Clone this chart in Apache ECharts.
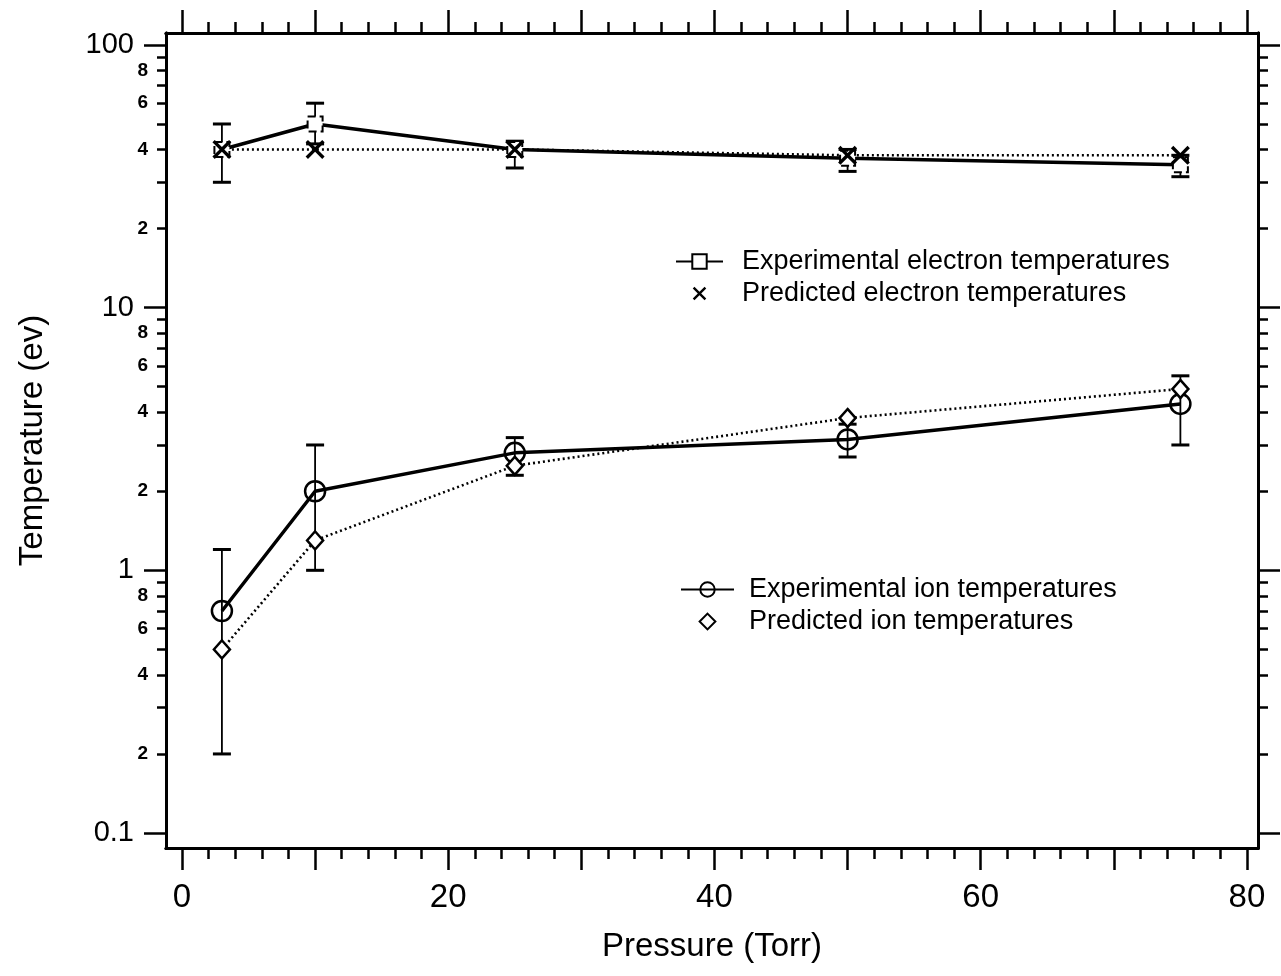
<!DOCTYPE html>
<html><head><meta charset="utf-8">
<script src="https://cdn.jsdelivr.net/npm/echarts@6/dist/echarts.min.js"></script>
<style>html,body{margin:0;padding:0;background:#fff}#c{width:1281px;height:976px}</style>
</head><body><div id="c"></div>
<script>
// ---- data ----
const pressure = [3, 10, 25, 50, 75];
const expElectron = [40, 50, 40, 37, 35];
const expElectronLow = [30, 42, 34, 33, 31.5];
const expElectronHigh = [50, 60, 43, 40, 38];
const predElectron = [40, 40, 40, 38, 38];
const expIon = [0.7, 2.0, 2.8, 3.15, 4.3];
const expIonLow = [0.2, 1.0, 2.3, 2.7, 3.0];
const expIonHigh = [1.2, 3.0, 3.2, 3.6, 5.5];
const predIon = [0.5, 1.3, 2.5, 3.8, 4.9];

const seriesNames = ['Experimental electron temperatures', 'Predicted electron temperatures',
                     'Experimental ion temperatures', 'Predicted ion temperatures'];

// ---- tick / label values ----
const xLabelValues = [0, 20, 40, 60, 80];
const xMajorTicks = [0, 10, 20, 30, 40, 50, 60, 70, 80];
const xMinorTicks = [2, 4, 6, 8, 12, 14, 16, 18, 22, 24, 26, 28, 32, 34, 36, 38, 42, 44, 46, 48, 52, 54, 56, 58, 62, 64, 66, 68, 72, 74, 76, 78];
const yMajorValues = [0.1, 1, 10, 100];
const yMinorLabelValues = [0.2, 0.4, 0.6, 0.8, 2, 4, 6, 8, 20, 40, 60, 80];
const yMinorTicks = [0.2, 0.3, 0.4, 0.5, 0.6, 0.7, 0.8, 0.9, 2, 3, 4, 5, 6, 7, 8, 9, 20, 30, 40, 50, 60, 70, 80, 90];

const X_MIN = -1.2, X_MAX = 80.83, Y_MIN = 0.0877, Y_MAX = 111;
const FONT = 'Liberation Sans, Arial, Helvetica, sans-serif';

const pairs = (xs, ys) => xs.map((x, i) => [x, ys[i]]);
const errData = (xs, lo, hi) => xs.map((x, i) => [x, lo[i], hi[i]]);

const X_PATH = 'path://M0,1.5L1.5,0L6,4.5L10.5,0L12,1.5L7.5,6L12,10.5L10.5,12L6,7.5L1.5,12L0,10.5L4.5,6Z';
const X_ICON = 'path://M-2,-2M14,14M0,1.5L1.5,0L6,4.5L10.5,0L12,1.5L7.5,6L12,10.5L10.5,12L6,7.5L1.5,12L0,10.5L4.5,6Z';
const D_ICON = 'path://M-1,-1M15,15M7,0L14,7L7,14L0,7Z';

function errorBar(params, api) {
  const x = api.value(0);
  const top = api.coord([x, api.value(2)]);
  const bot = api.coord([x, api.value(1)]);
  const hw = 9;
  return {
    type: 'group',
    children: [
      { type: 'line', shape: { x1: top[0], y1: top[1], x2: bot[0], y2: bot[1] },
        style: { stroke: '#000', lineWidth: 1.8 } },
      { type: 'line', shape: { x1: top[0] - hw, y1: top[1], x2: top[0] + hw, y2: top[1] },
        style: { stroke: '#000', lineWidth: 3 } },
      { type: 'line', shape: { x1: bot[0] - hw, y1: bot[1], x2: bot[0] + hw, y2: bot[1] },
        style: { stroke: '#000', lineWidth: 3 } }
    ]
  };
}

function xAx(pos, ticks, len, opts) {
  return Object.assign({
    type: 'value', position: pos, min: X_MIN, max: X_MAX,
    axisLine: { show: true, onZero: false, lineStyle: { color: '#000', width: 3 } },
    axisTick: { show: true, customValues: ticks, length: len, lineStyle: { color: '#000', width: 2.5 } },
    axisLabel: { show: false },
    splitLine: { show: false }
  }, opts || {});
}
function yAx(pos, ticks, len, opts) {
  return Object.assign({
    type: 'log', logBase: 10, position: pos, min: Y_MIN, max: Y_MAX,
    axisLine: { show: true, onZero: false, lineStyle: { color: '#000', width: 3 } },
    axisTick: { show: true, customValues: ticks, length: len, lineStyle: { color: '#000', width: 2.5 } },
    axisLabel: { show: false },
    splitLine: { show: false }
  }, opts || {});
}

const option = {
  animation: false,
  backgroundColor: '#fff',
  textStyle: { fontFamily: FONT, color: '#000' },
  grid: { left: 166, top: 33, width: 1092, height: 815, containLabel: false },
  legend: [
    { data: [seriesNames[0], { name: seriesNames[1], icon: X_ICON }],
      orient: 'vertical', left: 675, top: 248, padding: 0,
      itemWidth: 47, itemHeight: 18, itemGap: 5, selectedMode: false,
      textStyle: { fontSize: 27, color: '#000', fontFamily: FONT, padding: [0, 0, 0, 14] } },
    { data: [seriesNames[2], { name: seriesNames[3], icon: D_ICON }],
      orient: 'vertical', left: 680, top: 576, padding: 0,
      itemWidth: 53, itemHeight: 18, itemGap: 5, selectedMode: false,
      textStyle: { fontSize: 27, color: '#000', fontFamily: FONT, padding: [0, 0, 0, 10] } }
  ],
  xAxis: [
    xAx('bottom', xMajorTicks, 22, {
      axisLabel: { show: true, customValues: xLabelValues, margin: 33, fontSize: 33, color: '#000', fontFamily: FONT },
      name: 'Pressure (Torr)', nameLocation: 'middle', nameGap: 82,
      nameTextStyle: { fontSize: 33, color: '#000', fontFamily: FONT }
    }),
    xAx('bottom', xMinorTicks, 11),
    xAx('top', xMajorTicks, 23),
    xAx('top', xMinorTicks, 11)
  ],
  yAxis: [
    yAx('left', yMajorValues, 22, {
      axisLabel: { show: true, customValues: yMajorValues, margin: 32, fontSize: 29, color: '#000', fontFamily: FONT,
                   formatter: v => String(+v.toPrecision(3)) },
      name: 'Temperature (ev)', nameLocation: 'middle', nameGap: 117,
      nameTextStyle: { fontSize: 33, color: '#000', fontFamily: FONT }
    }),
    yAx('left', yMinorTicks, 9, {
      axisLabel: { show: true, customValues: yMinorLabelValues, margin: 18, fontSize: 19, fontWeight: 'bold', color: '#000', fontFamily: FONT,
                   formatter: v => String(Math.round(v / Math.pow(10, Math.floor(Math.log10(v) + 1e-9)))) }
    }),
    yAx('right', yMajorValues, 22),
    yAx('right', yMinorTicks, 10)
  ],
  series: [
    { type: 'custom', name: 'eErr', renderItem: errorBar, data: errData(pressure, expElectronLow, expElectronHigh),
      encode: { x: 0, y: [1, 2] }, z: 1 },
    { type: 'custom', name: 'iErr', renderItem: errorBar, data: errData(pressure, expIonLow, expIonHigh),
      encode: { x: 0, y: [1, 2] }, z: 1 },
    { type: 'line', name: 'predElectronLine', data: pairs(pressure, predElectron), showSymbol: false, symbol: 'none',
      lineStyle: { color: '#000', width: 2.6, type: [2, 3] }, z: 2 },
    { type: 'line', name: 'predIonLine', data: pairs(pressure, predIon), showSymbol: false, symbol: 'none',
      lineStyle: { color: '#000', width: 2.6, type: [2, 3] }, z: 2 },
    { type: 'line', name: seriesNames[0], data: pairs(pressure, expElectron),
      symbol: 'rect', symbolSize: 15,
      lineStyle: { color: '#000', width: 3.5 },
      itemStyle: { color: '#fff', borderColor: '#000', borderWidth: 2, borderType: 'dashed', opacity: 1 }, z: 3 },
    { type: 'scatter', name: seriesNames[1], data: pairs(pressure, predElectron),
      symbol: X_PATH, symbolSize: 19, itemStyle: { color: '#000', opacity: 1 }, z: 4 },
    { type: 'line', name: seriesNames[2], data: pairs(pressure, expIon),
      symbol: 'circle', symbolSize: 20,
      lineStyle: { color: '#000', width: 3.5 },
      itemStyle: { color: 'rgba(255,255,255,0)', borderColor: '#000', borderWidth: 2.5, opacity: 1 }, z: 3 },
    { type: 'scatter', name: seriesNames[3], data: pairs(pressure, predIon),
      symbol: 'diamond', symbolSize: [16, 18],
      itemStyle: { color: '#fff', borderColor: '#000', borderWidth: 2.5, opacity: 1 }, z: 4 }
  ]
};

const chart = echarts.init(document.getElementById('c'), null, { renderer: 'canvas' });
chart.setOption(option);
</script>
</body></html>
